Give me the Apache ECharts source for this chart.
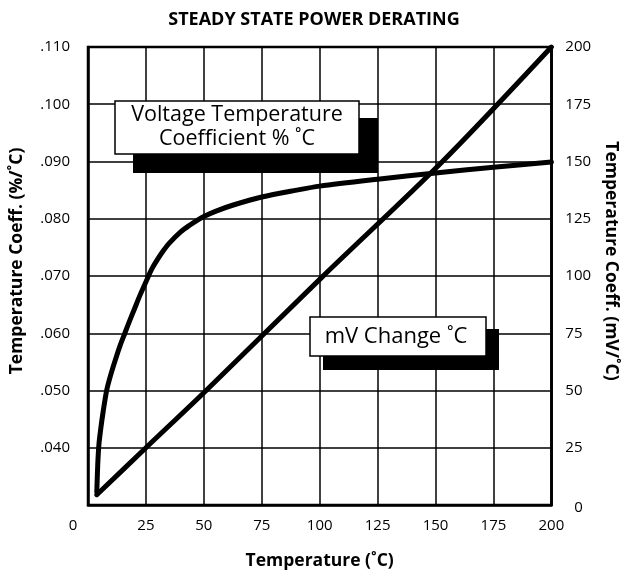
<!DOCTYPE html>
<html>
<head>
<meta charset="utf-8">
<script src="https://cdn.jsdelivr.net/npm/echarts@6/dist/echarts.min.js"></script>
<style>
html,body{margin:0;padding:0;background:#fff;}
#chart{width:628px;height:575px;}
</style>
</head>
<body>
<div id="chart"></div>
<script>
// Temperature (°C) vs voltage temperature coefficient (%/°C), left axis
const coeffPct = [
  [3.8, 0.0323], [4.2, 0.0370], [4.7, 0.0405], [5.5, 0.0433], [6.5, 0.0462],
  [8.1, 0.0501], [10, 0.0530], [12, 0.0556], [14, 0.0580], [15.9, 0.0600],
  [18, 0.0622], [20, 0.0642], [22.5, 0.0667], [25.8, 0.0697], [27.5, 0.0712],
  [30, 0.0729], [32.5, 0.0744], [35, 0.0757], [40, 0.0777], [44, 0.0789],
  [47.8, 0.0799], [50, 0.0804], [55, 0.0813], [62.7, 0.0824], [75, 0.0838],
  [90, 0.0850], [100, 0.0857], [125, 0.0869], [150, 0.0880], [175, 0.0890],
  [200, 0.0899]
];
// Temperature (°C) vs mV change per °C, right axis
const mvChange = [
  [3.8, 4.5], [25, 25], [51, 50], [101, 99.5], [153, 150], [200, 200]
];
const xTicks = [0, 25, 50, 75, 100, 125, 150, 175, 200];
const leftTicks = [0.03, 0.04, 0.05, 0.06, 0.07, 0.08, 0.09, 0.10, 0.11];
const rightTicks = [0, 25, 50, 75, 100, 125, 150, 175, 200];
const titleText = 'STEADY STATE POWER DERATING';
const xName = 'Temperature (˚C)';
const leftName = 'Temperature Coeff. (%/˚C)';
const rightName = 'Temperature Coeff. (mV/˚C)';
const legend1 = 'Voltage Temperature\nCoefficient % ˚C';
const legend2 = 'mV Change ˚C';

const FONT = '"Open Sans", "Noto Sans", sans-serif';
const chart = echarts.init(document.getElementById('chart'), null, {renderer: 'canvas'});

const gridLine = {show: true, lineStyle: {color: '#000', width: 1.5}};
const tickLbl = {color: '#000', fontSize: 15, fontFamily: FONT};
const nameStyle = {fontSize: 17.5, fontWeight: 'bold', fontFamily: FONT, color: '#000'};

chart.setOption({
  animation: false,
  backgroundColor: '#fff',
  title: {
    text: titleText, left: 'center', top: 6,
    textStyle: {fontSize: 18, fontWeight: 'bold', fontFamily: FONT, color: '#000'}
  },
  grid: {left: 88, right: 72, top: 47, bottom: 64, show: true, borderColor: '#000', borderWidth: 2.5},
  xAxis: {
    type: 'value', min: xTicks[0], max: xTicks[xTicks.length - 1], interval: 25,
    name: xName, nameLocation: 'middle', nameGap: 47,
    nameTextStyle: nameStyle,
    axisLine: {show: true, lineStyle: {color: '#000', width: 2.5}},
    axisTick: {show: false},
    splitLine: gridLine,
    axisLabel: Object.assign({}, tickLbl, {
      margin: 13,
      formatter: v => v === 0 ? '{z|0}' : String(v),
      rich: {z: {fontSize: 15, fontFamily: FONT, color: '#000', padding: [0, 30, 0, 0]}}
    })
  },
  yAxis: [
    {
      type: 'value', min: leftTicks[0], max: leftTicks[leftTicks.length - 1], interval: 0.01,
      position: 'left',
      name: leftName, nameLocation: 'middle', nameGap: 62, nameRotate: 90,
      nameTextStyle: Object.assign({}, nameStyle, {padding: [0, 0, 0, 30]}),
      axisLine: {show: true, lineStyle: {color: '#000', width: 2.5}},
      axisTick: {show: false},
      splitLine: gridLine,
      axisLabel: Object.assign({}, tickLbl, {
        margin: 18,
        formatter: v => {
          const n = Math.round(v * 1000);
          if (n === 30) return '';
          return '.' + String(n).padStart(3, '0');
        }
      })
    },
    {
      type: 'value', min: rightTicks[0], max: rightTicks[rightTicks.length - 1], interval: 25,
      position: 'right',
      name: rightName, nameLocation: 'middle', nameGap: 48, nameRotate: -90,
      nameTextStyle: Object.assign({}, nameStyle, {padding: [0, 30, 0, 0]}),
      axisLine: {show: true, lineStyle: {color: '#000', width: 2.5}},
      axisTick: {show: false},
      splitLine: {show: false},
      axisLabel: Object.assign({}, tickLbl, {
        margin: 14,
        formatter: v => v === 0 ? '{z|0}' : String(v),
        rich: {z: {fontSize: 15, fontFamily: FONT, color: '#000', padding: [6, 0, 0, 9]}}
      })
    }
  ],
  series: [
    {
      type: 'line', yAxisIndex: 0, data: coeffPct, smooth: 0.3, symbol: 'none',
      lineStyle: {color: '#000', width: 5, join: 'round', cap: 'round'}, z: 5
    },
    {
      type: 'line', yAxisIndex: 1, data: mvChange, smooth: 0.3, symbol: 'none',
      lineStyle: {color: '#000', width: 5, join: 'round', cap: 'round'}, z: 5
    }
  ],
  graphic: [
    {type: 'rect', shape: {x: 133, y: 118, width: 245, height: 55}, style: {fill: '#000'}, z: 100},
    {type: 'rect', shape: {x: 115, y: 101, width: 244, height: 53}, style: {fill: '#fff', stroke: '#000', lineWidth: 1.5}, z: 101},
    {type: 'text', x: 237, y: 127, style: {text: legend1, fill: '#000', fontSize: 21.5, fontFamily: FONT, align: 'center', verticalAlign: 'middle', lineHeight: 24}, z: 102},
    {type: 'rect', shape: {x: 323, y: 329, width: 176, height: 41}, style: {fill: '#000'}, z: 100},
    {type: 'rect', shape: {x: 310, y: 317, width: 176, height: 39}, style: {fill: '#fff', stroke: '#000', lineWidth: 1.5}, z: 101},
    {type: 'text', x: 396, y: 337, style: {text: legend2, fill: '#000', fontSize: 22, fontFamily: FONT, align: 'center', verticalAlign: 'middle'}, z: 102}
  ]
});
</script>
</body>
</html>
